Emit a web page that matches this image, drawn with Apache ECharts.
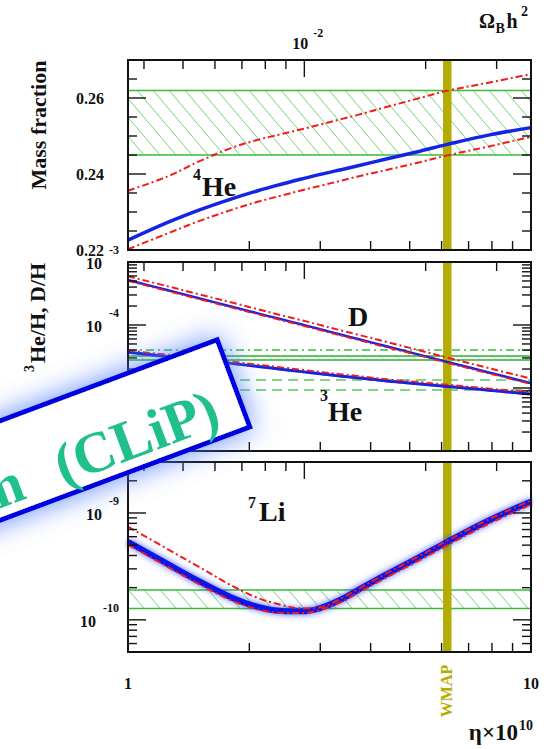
<!DOCTYPE html>
<html><head><meta charset="utf-8">
<script src="https://cdn.jsdelivr.net/npm/echarts@6/dist/echarts.min.js"></script>
<style>html,body{margin:0;padding:0;background:#fff}#c{width:550px;height:749px}</style>
</head><body><div id="c"></div>
<script>
// ---------------- data ----------------
const eta = [1, 1.25, 1.5, 1.8, 2.1, 2.4, 2.7, 3.0, 3.4, 3.7, 4.4, 5.3, 6.2, 7.9, 10];
const he4Central = [0.2226, 0.2272, 0.2305, 0.2334, 0.2356, 0.2373, 0.2387, 0.2399, 0.2412, 0.2421, 0.2440, 0.2460, 0.2478, 0.2503, 0.2522];
const he4Upper   = [0.2356, 0.2393, 0.2433, 0.2468, 0.2490, 0.2505, 0.2518, 0.2530, 0.2545, 0.2555, 0.2577, 0.2600, 0.2619, 0.2641, 0.2663];
const he4Lower   = [0.2202, 0.2243, 0.2276, 0.2305, 0.2327, 0.2343, 0.2357, 0.2369, 0.2383, 0.2393, 0.2411, 0.2431, 0.2449, 0.2473, 0.2498];
const dCentral = [5.18e-4, 3.59e-4, 2.66e-4, 1.97e-4, 1.53e-4, 1.23e-4, 1.02e-4, 8.55e-5, 6.95e-5, 6.05e-5, 4.56e-5, 3.36e-5, 2.59e-5, 1.75e-5, 1.19e-5];
const dUpper   = [5.94e-4, 4.14e-4, 3.08e-4, 2.29e-4, 1.78e-4, 1.43e-4, 1.19e-4, 1.00e-4, 8.13e-5, 7.08e-5, 5.35e-5, 3.94e-5, 3.03e-5, 2.05e-5, 1.41e-5];
const dLower   = [5.00e-4, 3.47e-4, 2.57e-4, 1.90e-4, 1.48e-4, 1.19e-4, 9.85e-5, 8.26e-5, 6.71e-5, 5.84e-5, 4.40e-5, 3.25e-5, 2.50e-5, 1.69e-5, 1.15e-5];
const he3Central = [3.69e-5, 3.16e-5, 2.79e-5, 2.46e-5, 2.20e-5, 1.99e-5, 1.82e-5, 1.68e-5, 1.54e-5, 1.46e-5, 1.29e-5, 1.16e-5, 1.06e-5, 9.2e-6, 8.0e-6];
const he3Upper   = [3.95e-5, 3.38e-5, 2.99e-5, 2.63e-5, 2.35e-5, 2.13e-5, 1.95e-5, 1.80e-5, 1.65e-5, 1.56e-5, 1.38e-5, 1.24e-5, 1.13e-5, 9.8e-6, 8.6e-6];
const he3Lower   = [3.62e-5, 3.10e-5, 2.73e-5, 2.41e-5, 2.16e-5, 1.95e-5, 1.78e-5, 1.65e-5, 1.51e-5, 1.43e-5, 1.26e-5, 1.14e-5, 1.04e-5, 9.0e-6, 7.8e-6];
const li7Central = [5.38e-10, 3.36e-10, 2.30e-10, 1.63e-10, 1.32e-10, 1.21e-10, 1.20e-10, 1.29e-10, 1.57e-10, 1.88e-10, 2.69e-10, 3.89e-10, 5.37e-10, 8.59e-10, 1.28e-9];
const li7Upper   = [7.45e-10, 4.62e-10, 3.13e-10, 2.11e-10, 1.60e-10, 1.38e-10, 1.28e-10, 1.31e-10, 1.60e-10, 1.92e-10, 2.75e-10, 3.98e-10, 5.50e-10, 8.80e-10, 1.31e-9];
const li7Lower   = [5.05e-10, 3.16e-10, 2.16e-10, 1.53e-10, 1.25e-10, 1.16e-10, 1.16e-10, 1.24e-10, 1.48e-10, 1.77e-10, 2.52e-10, 3.63e-10, 5.00e-10, 8.00e-10, 1.20e-9];

const he4Band = [0.245, 0.262];
const dBand = [2.78e-5, 3.22e-5];
const dUpperLimit = [4.0e-5];
const he3Band = [9.3e-6, 1.34e-5];
const li7Band = [1.28e-10, 1.9e-10];
const wmapBand = [6.05, 6.35];

const etaRange = [1, 10];
const etaPerOmega = 273.9;           // eta10 = 273.9 * Omega_B h^2
const he4Range = [0.22, 0.27];
const dhRange = [1e-6, 1e-3];
const li7Range = [5e-11, 3e-9];

const etaMinorTicks = [2, 3, 4, 5, 6, 7, 8, 9];
const etaLabelValues = [1, 10];
const etaLabels = ['1', '10'];
const omegaMinorTicks = [0.004, 0.005, 0.006, 0.007, 0.008, 0.009, 0.02, 0.03];
const omegaMajorTicks = [0.01];
const omegaLabelExps = ['-2'];
const he4MajorTicks = [0.22, 0.24, 0.26];
const he4MinorTicks = [0.225, 0.23, 0.235, 0.245, 0.25, 0.255, 0.265];
const he4Labels = ['0.22', '0.24', '0.26'];
const logMantissas = [2, 3, 4, 5, 6, 7, 8, 9];
const dhDecades = [1e-6, 1e-5, 1e-4, 1e-3];
const dhLabelValues = [1e-3, 1e-4];
const dhLabelExps = ['-3', '-4'];
const li7Decades = [1e-11, 1e-10, 1e-9];
const li7LabelValues = [1e-9, 1e-10];
const li7LabelExps = ['-9', '-10'];

// ---------------- helpers ----------------
const SERIF = '"Liberation Serif", "Times New Roman", serif';
const INK = '#111';
const BLUE = '#1424e4';
const RED = '#f01c1c';
const GREEN = '#35bd35';
const HATCH = '#78d478';
const OLIVE = '#b3ad00';
const font = (s) => 'bold ' + s + 'px ' + SERIF;
const _ctx = document.createElement('canvas').getContext('2d');
const tw = (t, s) => { _ctx.font = font(s); return _ctx.measureText(t).width; };

function logMinor(decades, range) {
  const out = [];
  decades.forEach(d => logMantissas.forEach(m => {
    const v = m * d;
    if (v > range[0] * 1.001 && v < range[1] * 0.999) out.push(v);
  }));
  return out;
}
const dhMinorTicks = logMinor(dhDecades, dhRange);
const li7MinorTicks = logMinor(li7Decades, li7Range);
const li7MajorTicks = li7Decades.filter(v => v >= li7Range[0] && v <= li7Range[1]);

function T(x, y, text, size, align, extra) {
  return Object.assign({
    type: 'text', x, y, silent: true,
    style: { text, font: font(size), fill: INK, align, verticalAlign: 'middle', textAlign: align, textVerticalAlign: 'middle' }
  }, extra || {});
}

const grids = [
  { left: 128, right: 19, top: 60, height: 190 },
  { left: 128, right: 19, top: 262, height: 189 },
  { left: 128, right: 19, top: 462, height: 190 }
];
const yRanges = [he4Range, dhRange, li7Range];

const xAxes = [], yAxes = [];
grids.forEach((g, i) => {
  xAxes.push({ type: 'log', logBase: 10, gridIndex: i, min: etaRange[0], max: etaRange[1], position: 'bottom', show: false });
  xAxes.push({ type: 'log', logBase: 10, gridIndex: i, min: etaRange[0] / etaPerOmega, max: etaRange[1] / etaPerOmega, position: 'top', show: false });
});
yAxes.push({ type: 'value', gridIndex: 0, min: he4Range[0], max: he4Range[1], show: false });
yAxes.push({ type: 'log', logBase: 10, gridIndex: 1, min: dhRange[0], max: dhRange[1], show: false });
yAxes.push({ type: 'log', logBase: 10, gridIndex: 2, min: li7Range[0], max: li7Range[1], show: false });

function curve(gi, ys, color, width, dashed, z, glow) {
  const ls = { color, width, type: dashed ? [7, 3, 2, 3] : 'solid', cap: 'butt' };
  if (glow) { ls.shadowBlur = 6; ls.shadowColor = 'rgba(40,60,255,0.85)'; }
  return {
    type: 'line', xAxisIndex: gi * 2, yAxisIndex: gi, data: eta.map((x, k) => [x, ys[k]]),
    showSymbol: false, symbol: 'none', smooth: 0.35, z, silent: true, animation: false, lineStyle: ls
  };
}

// band: bounds lines + hatch
function band(gi, lo, hi, opt) {
  return {
    type: 'custom', xAxisIndex: gi * 2, yAxisIndex: gi, z: 1, silent: true, animation: false, clip: false,
    data: [[etaRange[0], lo]],
    renderItem(params, api) {
      const a = api.coord([etaRange[0], hi]);
      const b = api.coord([etaRange[1], lo]);
      const xL = a[0], yT = a[1], xR = b[0], yB = b[1];
      const ch = [];
      const h = yB - yT, dx = h * opt.slope;
      if (opt.hatch) {
        for (let s = xL - dx; s < xR; s += opt.spacing) {
          let x1 = s, y1 = yT, x2 = s + dx, y2 = yB;
          if (x1 < xL) { y1 = yT + (xL - x1) / dx * h; x1 = xL; }
          if (x2 > xR) { y2 = yT + (xR - s) / dx * h; x2 = xR; }
          if (x2 <= x1) continue;
          ch.push({ type: 'line', shape: { x1, y1, x2, y2 }, style: { stroke: opt.hatchColor || HATCH, lineWidth: 1 } });
        }
      }
      [yT, yB].forEach(y => ch.push({ type: 'line', shape: { x1: xL, y1: y, x2: xR, y2: y }, style: { stroke: opt.color || GREEN, lineWidth: 1.5, lineDash: opt.dash || null } }));
      return { type: 'group', children: ch };
    }
  };
}

function hline(gi, v, color, dash) {
  return {
    type: 'custom', xAxisIndex: gi * 2, yAxisIndex: gi, z: 1, silent: true, animation: false, clip: false,
    data: [[etaRange[0], v]],
    renderItem(params, api) {
      const a = api.coord([etaRange[0], v]), b = api.coord([etaRange[1], v]);
      return { type: 'line', shape: { x1: a[0], y1: a[1], x2: b[0], y2: b[1] }, style: { stroke: color, lineWidth: 1.5, lineDash: dash } };
    }
  };
}

function wmap(gi) {
  const yr = yRanges[gi];
  return {
    type: 'custom', xAxisIndex: gi * 2, yAxisIndex: gi, z: 2, silent: true, animation: false, clip: false,
    data: [[wmapBand[0], yr[0]]],
    renderItem(params, api) {
      const a = api.coord([wmapBand[0], yr[1]]), b = api.coord([wmapBand[1], yr[0]]);
      return { type: 'rect', shape: { x: a[0], y: a[1], width: b[0] - a[0], height: b[1] - a[1] }, style: { fill: OLIVE } };
    }
  };
}

// frame, eta ticks, y ticks, y labels
function frame(gi, major, minor, labelFn, bottomLabels) {
  const yr = yRanges[gi];
  return {
    type: 'custom', xAxisIndex: gi * 2, yAxisIndex: gi, z: 6, silent: true, animation: false, clip: false,
    data: [[etaRange[0], yr[0]]],
    renderItem(params, api) {
      const a = api.coord([etaRange[0], yr[1]]), b = api.coord([etaRange[1], yr[0]]);
      const xL = a[0], yT = a[1], xR = b[0], yB = b[1];
      const ch = [];
      const L = (x1, y1, x2, y2) => ch.push({ type: 'line', shape: { x1, y1, x2, y2 }, style: { stroke: INK, lineWidth: 1.4 } });
      etaMinorTicks.forEach(v => { const x = api.coord([v, yr[0]])[0]; L(x, yB, x, yB - 9); });
      minor.forEach(v => { const y = api.coord([etaRange[0], v])[1]; L(xL, y, xL + 9, y); L(xR, y, xR - 9, y); });
      major.forEach(v => { const y = api.coord([etaRange[0], v])[1]; L(xL, y, xL + 18, y); L(xR, y, xR - 18, y); });
      labelFn(api, xL, ch);
      if (bottomLabels) {
        etaLabelValues.forEach((v, k) => { const x = api.coord([v, yr[0]])[0]; ch.push(T(x, yB + 31, etaLabels[k], 16, 'center')); });
      }
      ch.push({ type: 'rect', shape: { x: xL, y: yT, width: xR - xL, height: yB - yT }, style: { fill: 'none', stroke: INK, lineWidth: 2 } });
      return { type: 'group', children: ch };
    }
  };
}

function omegaTicks(gi, withLabel) {
  const yr = yRanges[gi];
  return {
    type: 'custom', xAxisIndex: gi * 2 + 1, yAxisIndex: gi, z: 6, silent: true, animation: false, clip: false,
    data: [[omegaMajorTicks[0], yr[1]]],
    renderItem(params, api) {
      const ch = [];
      const yT = api.coord([omegaMajorTicks[0], yr[1]])[1];
      const L = (x1, y1, x2, y2) => ch.push({ type: 'line', shape: { x1, y1, x2, y2 }, style: { stroke: INK, lineWidth: 1.4 } });
      omegaMinorTicks.forEach(v => { const x = api.coord([v, yr[1]])[0]; L(x, yT, x, yT + 9); });
      omegaMajorTicks.forEach((v, k) => {
        const x = api.coord([v, yr[1]])[0]; L(x, yT, x, yT + 17);
        if (withLabel) {
          ch.push(T(x + 4, yT - 17, '10', 16, 'right'));
          ch.push(T(x + 9, yT - 27, omegaLabelExps[k], 12, 'left'));
        }
      });
      return { type: 'group', children: ch };
    }
  };
}

function he4LabelFn(api, xL, ch) {
  he4MajorTicks.forEach((v, k) => { const y = api.coord([etaRange[0], v])[1]; ch.push(T(xL - 24, y, he4Labels[k], 16, 'right')); });
}
function powLabelFn(values, exps) {
  return (api, xL, ch) => {
    values.forEach((v, k) => {
      const y = api.coord([etaRange[0], v])[1];
      const ex = xL - 9;
      ch.push(T(ex, y - 12, exps[k], 12, 'right'));
      ch.push(T(ex - tw(exps[k], 12) - 7, y + 1.5, '10', 16, 'right'));
    });
  };
}

const series = [
  // bands
  band(0, he4Band[0], he4Band[1], { hatch: true, spacing: 16, slope: 0.85 }),
  band(1, dBand[0], dBand[1], { hatch: true, spacing: 16, slope: 0.85, hatchColor: '#a8e4a8', color: '#2fb02f' }),
  hline(1, dUpperLimit[0], '#3fb83f', [8, 4, 2, 4]),
  band(1, he3Band[0], he3Band[1], { hatch: false, color: '#5cc65c', dash: [10, 6] }),
  band(2, li7Band[0], li7Band[1], { hatch: true, spacing: 16, slope: 0.85 }),
  // WMAP
  wmap(0), wmap(1), wmap(2),
  // curves
  curve(0, he4Central, BLUE, 3.5, false, 3),
  curve(0, he4Upper, RED, 2, true, 4),
  curve(0, he4Lower, RED, 2, true, 4),
  curve(1, dCentral, BLUE, 2.5, false, 3),
  curve(1, dUpper, RED, 2, true, 4),
  curve(1, dLower, RED, 1.8, true, 4),
  curve(1, he3Central, BLUE, 3, false, 3),
  curve(1, he3Upper, RED, 1.8, true, 4),
  curve(1, he3Lower, RED, 1.5, true, 2.5),
  curve(2, li7Central, '#0c14e8', 6, false, 3, true),
  curve(2, li7Upper, RED, 2, true, 4),
  curve(2, li7Lower, RED, 2, true, 4),
  // frames and ticks
  frame(0, he4MajorTicks, he4MinorTicks, he4LabelFn, false),
  frame(1, dhDecades, dhMinorTicks, powLabelFn(dhLabelValues, dhLabelExps), false),
  frame(2, li7MajorTicks, li7MinorTicks, powLabelFn(li7LabelValues, li7LabelExps), true),
  omegaTicks(0, true), omegaTicks(1, false), omegaTicks(2, false)
];

// ---------------- annotations ----------------
const R90 = Math.PI / 2;
const boxFont = 58;
const tagText = '(CLiP)';
const tagRight = -27;
const tagLeft = tagRight - tw(tagText, boxFont);
const graphic = [
  T(38, 125, 'Mass fraction', 22, 'center', { rotation: R90, z: 50 }),
  T(37, 363, 'He/H, D/H', 22, 'left', { rotation: R90, z: 50 }),
  T(29, 372, '3', 14, 'left', { rotation: R90, z: 50 }),
  T(193, 174, '4', 16, 'left', { z: 50 }),
  T(202, 186, 'He', 28, 'left', { z: 50 }),
  T(348, 316.5, 'D', 28, 'left', { z: 50 }),
  T(320, 395, '3', 16, 'left', { z: 50 }),
  T(328, 411.5, 'He', 28, 'left', { z: 50 }),
  T(248, 502, '7', 16, 'left', { z: 50 }),
  T(259, 511, 'Li', 28, 'left', { z: 50 }),
  T(479, 20.5, 'Ω', 20, 'left', { z: 50 }),
  T(495.5, 28.5, 'B', 14, 'left', { z: 50 }),
  T(506.5, 20.5, 'h', 20, 'left', { z: 50 }),
  T(521, 11, '2', 14, 'left', { z: 50 }),
  T(518, 732.5, 'η×10', 23, 'right', { z: 50 }),
  T(519, 725, '10', 14, 'left', { z: 50 }),
  (() => { const t = T(446, 691, 'WMAP', 16, 'center', { rotation: R90, z: 50 }); t.style.fill = OLIVE; return t; })(),
  {
    type: 'group', x: 235.8, y: 382.5, rotation: 20.5 * Math.PI / 180, z: 100, silent: true,
    children: [
      { type: 'rect', z: 100, shape: { x: -900, y: -46.5, width: 897.5, height: 93 },
        style: { fill: '#ffffff', stroke: '#0000e0', lineWidth: 5, shadowBlur: 28, shadowColor: 'rgba(70,120,255,0.85)' } },
      { type: 'text', z: 101, x: tagRight, y: 16,
        style: { text: tagText, font: font(boxFont), fill: '#1fc08d', align: 'right', verticalAlign: 'middle', textAlign: 'right', textVerticalAlign: 'middle' } },
      { type: 'text', z: 101, x: tagLeft - 37, y: 16,
        style: { text: 'Cosmological Lithium Problem', font: font(boxFont), fill: '#1fc08d', align: 'right', verticalAlign: 'middle', textAlign: 'right', textVerticalAlign: 'middle' } }
    ]
  }
];

const chart = echarts.init(document.getElementById('c'), null, { renderer: 'svg', width: 550, height: 749 });
chart.setOption({
  animation: false,
  backgroundColor: '#ffffff',
  grid: grids,
  xAxis: xAxes,
  yAxis: yAxes,
  series,
  graphic
});
</script>
</body></html>
